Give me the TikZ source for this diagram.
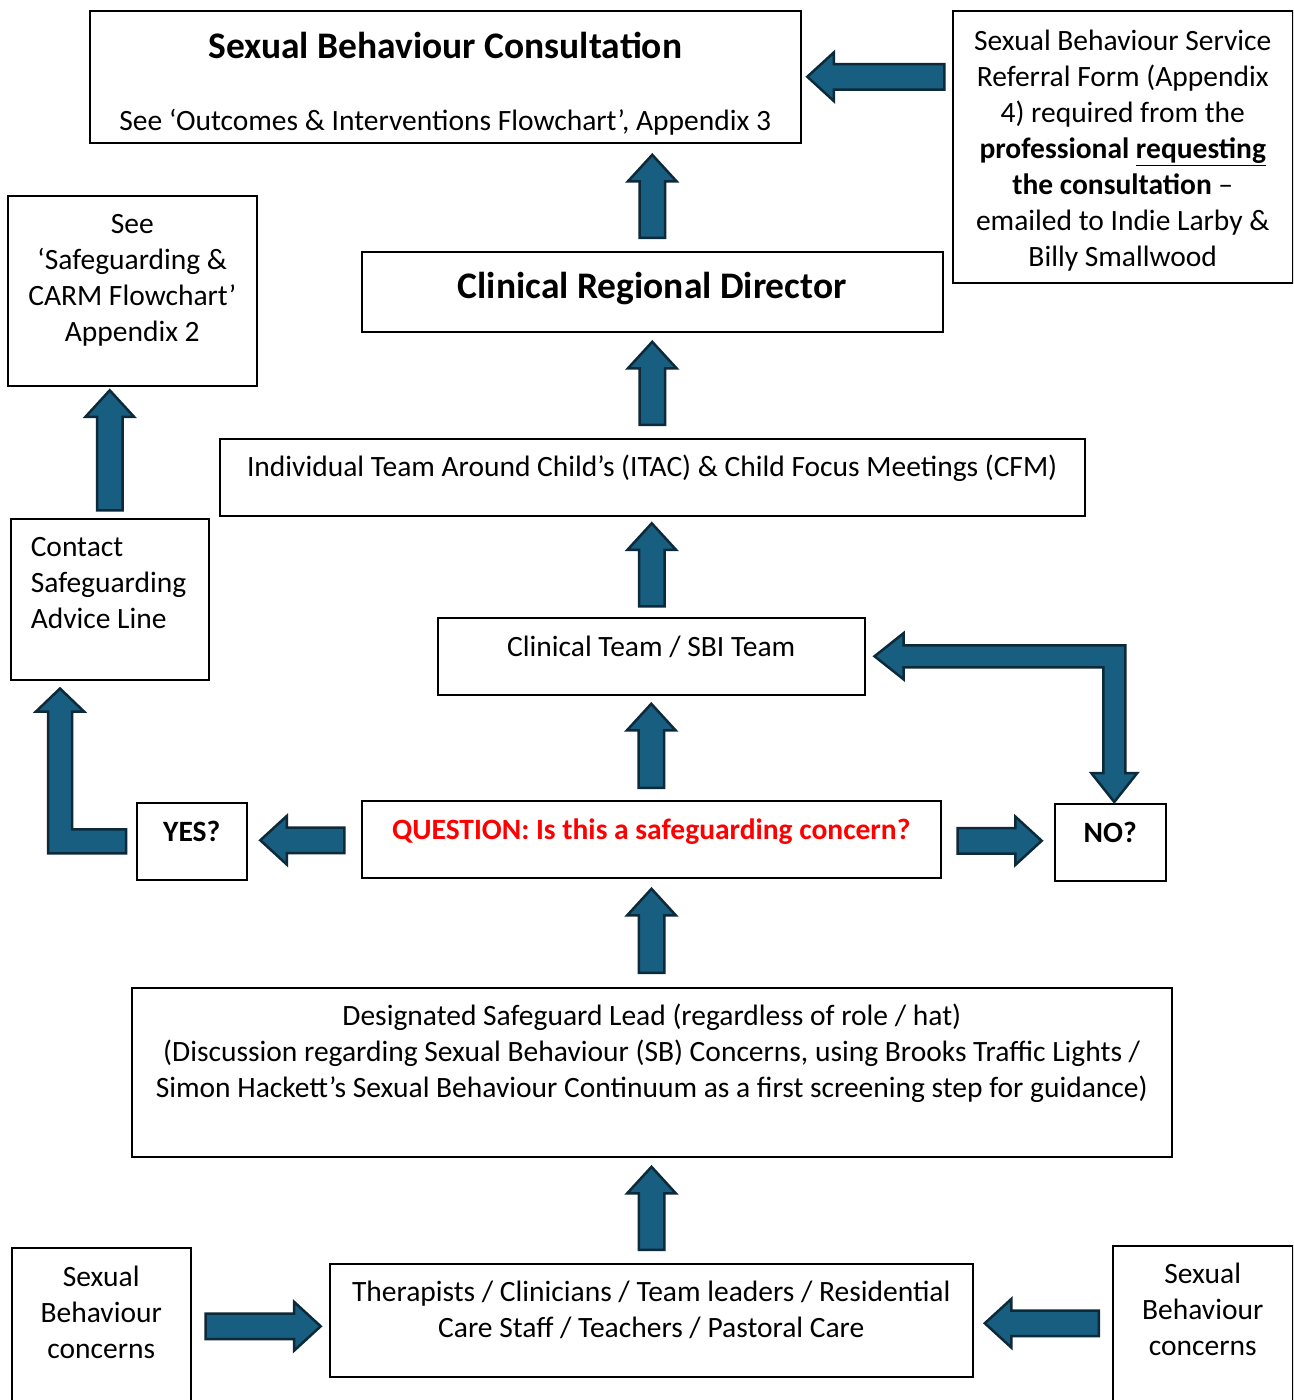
\documentclass[tikz,border=0pt]{standalone}
\usepackage{fontspec}
\setmainfont{Carlito}
\usetikzlibrary{shapes.arrows}
\usetikzlibrary{calc}

\definecolor{arrowblue}{RGB}{24,94,128}
\definecolor{arrowedge}{RGB}{13,42,58}
\newcommand{\headfont}{\fontsize{37.5}{44}\selectfont\bfseries}
\tikzset{
  box/.style={draw, line width=1.5pt, inner sep=0pt, anchor=north west, align=flush center,
    font=\fontsize{29.5}{36}\selectfont},
  blockarrow/.style={fill=arrowblue, draw=arrowedge, line width=2.5pt},
  bigarrow/.style={blockarrow, single arrow, inner xsep=0pt, inner ysep=11.5pt,
    text height=0pt, text depth=0pt, single arrow head extend=11.5pt, single arrow tip angle=85},
}

\begin{document}
\begin{tikzpicture}[x=1pt, y=-1pt]
\useasboundingbox (0,0) rectangle (1293,1400);
\fill[white] (0,0) rectangle (1293,1400);
\clip (0,0) rectangle (1293,1400);

\node[box, text width=711pt, text height=48pt, text depth=84pt] (consult) at (89,10)
  {{\headfont Sexual Behaviour Consultation}\\[36pt]See ‘Outcomes \& Interventions Flowchart’, Appendix 3};
\node[box, text width=340pt, text height=40pt, text depth=232pt] (referral) at (952,10)
  {Sexual Behaviour Service\\Referral Form (Appendix\\4) required from the\\\textbf{professional \underline{requesting}}\\\textbf{the consultation} –\\emailed to Indie Larby \&\\Billy Smallwood};
\node[box, text width=581pt, text height=47pt, text depth=33pt] (crd) at (361,251) {\headfont Clinical Regional Director};
\node[box, text width=249pt, text height=38pt, text depth=152pt] (safe) at (7,195)
  {See\\‘Safeguarding \&\\CARM Flowchart’\\Appendix 2};
\node[box, align=flush left, inner xsep=20pt, text width=158pt, text height=38pt, text depth=123pt] (contact) at (10,518)
  {Contact\\Safeguarding\\Advice Line};
\node[box, text width=865pt, text height=38pt, text depth=39pt] (itac) at (219,438)
  {Individual Team Around Child’s (ITAC) \& Child Focus Meetings (CFM)};
\node[box, text width=427pt, text height=39pt, text depth=38pt] (ct) at (437,617) {Clinical Team / SBI Team};
\node[box, text width=579pt, text height=39pt, text depth=38pt, text=red] (q) at (361,800)
  {\textbf{QUESTION: Is this a safeguarding concern?}};
\node[box, text width=110pt, text height=39pt, text depth=38pt] (yes) at (136,802) {\textbf{YES?}};
\node[box, text width=111pt, text height=39pt, text depth=38pt] (no) at (1054,803) {\textbf{NO?}};
\node[box, text width=1040pt, text height=38pt, text depth=131pt] (dsl) at (131,987)
  {Designated Safeguard Lead (regardless of role / hat)\\(Discussion regarding Sexual Behaviour (SB) Concerns, using Brooks Traffic Lights /\\Simon Hackett’s Sexual Behaviour Continuum as a first screening step for guidance)};
\node[box, text width=643pt, text height=38pt, text depth=75pt] (ther) at (329,1263)
  {Therapists / Clinicians / Team leaders / Residential\\Care Staff / Teachers / Pastoral Care};
\node[box, text width=179pt, text height=39pt, text depth=161pt] (sbl) at (11,1247) {Sexual\\Behaviour\\concerns};
\node[box, text width=180pt, text height=38pt, text depth=162pt] (sbr) at (1112,1245) {Sexual\\Behaviour\\concerns};

\node[bigarrow, rotate=90, minimum height=83pt] (up1) at ($(ther.north)!0.5!(dsl.south)+(0,5)$) {};
\node[bigarrow, rotate=90, minimum height=84pt] (up2) at ($(dsl.north)!0.5!(q.south)+(0,5)$) {};
\node[bigarrow, rotate=90, minimum height=84pt] (up3) at ($(q.north)!0.5!(ct.south)+(0,5)$) {};
\node[bigarrow, rotate=90, minimum height=83pt] (up4) at ($(ct.north)!0.5!(itac.south)+(0,5)$) {};
\node[bigarrow, rotate=90, minimum height=83pt] (up5) at ($(itac.north)!0.5!(crd.south)+(0,5)$) {};
\node[bigarrow, rotate=90, minimum height=83pt] (up6) at ($(crd.north)!0.5!(crd.north |- consult.south)+(0,6)$) {};
\node[bigarrow, rotate=90, minimum height=120pt] (up7) at ($(contact.north)!0.5!(contact.north |- safe.south)+(0,5)$) {};
\node[bigarrow, rotate=180, minimum height=137pt] (toconsult) at ($(consult.east)!0.5!(consult.east -| referral.west)+(6,0)$) {};
\node[bigarrow, rotate=180, minimum height=84pt] (toyes) at ($(q.west)!0.5!(yes.east)+(5,0)$) {};
\node[bigarrow, minimum height=84pt] (tono) at ($(q.east)!0.5!(no.west)+(-5,0)$) {};
\node[bigarrow, minimum height=115pt] (fromleft) at ($(ther.west)!0.5!(ther.west -| sbl.east)+(-4,6)$) {};
\node[bigarrow, rotate=180, minimum height=114pt] (fromright) at ($(ther.east)!0.5!(ther.east -| sbr.west)+(6,3)$) {};

\coordinate (yesfoot) at ($(yes.west)+(-10,0)$);
\coordinate (yestip) at ($(contact.south west)+(50,8)$);
\draw[blockarrow] ($(yesfoot)+(0,-12)$) -- ($(yesfoot -| yestip)+(12,-12)$) -- ($(yestip)+(12,23)$)
  -- ($(yestip)+(24,23)$) -- (yestip) -- ($(yestip)+(-24,23)$) -- ($(yestip)+(-12,23)$)
  -- ($(yesfoot -| yestip)+(-12,12)$) -- ($(yesfoot)+(0,12)$) -- cycle;

\coordinate (nol) at ($(ct.east)+(9,0)$);
\coordinate (nod) at ($(no.north)+(4,-1)$);
\coordinate (noc) at (nod |- nol);
\draw[blockarrow] (nol) -- ($(nol)+(29,-23)$) -- ($(nol)+(29,-11)$) -- ($(noc)+(11,-11)$)
  -- ($(nod)+(11,-29)$) -- ($(nod)+(23,-29)$) -- (nod) -- ($(nod)+(-23,-29)$) -- ($(nod)+(-11,-29)$)
  -- ($(noc)+(-11,11)$) -- ($(nol)+(29,11)$) -- ($(nol)+(29,23)$) -- cycle;
\end{tikzpicture}
\end{document}
